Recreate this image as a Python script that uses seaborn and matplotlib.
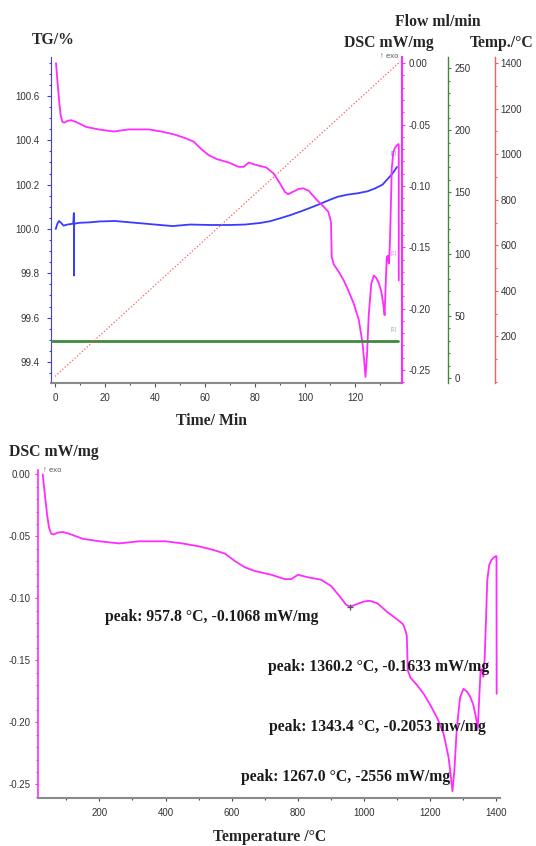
import numpy as np
import pandas as pd
import matplotlib
matplotlib.use("Agg")
import matplotlib.pyplot as plt
import seaborn as sns
from matplotlib.ticker import MultipleLocator, FormatStrFormatter

sns.set_style("ticks")
plt.rcParams['font.family'] = ['Liberation Sans', 'DejaVu Sans']
plt.rcParams['axes.unicode_minus'] = False

MAGENTA = '#ff2cff'
BLUE = '#3b3bff'
GREEN = '#3f8a3f'
RED = '#ff5a5a'
GREY = '#333333'
SERIF = ['Liberation Serif', 'DejaVu Serif']
TICK_SIZE = 7

# heating program: time (min) -> furnace temperature (C)
prog_time = [0.0, 137.5]
prog_temp = [25.0, 1400.0]

# purge gas flow (ml/min)
flow_time = [-1.5, 137.0]
flow_val = [30.0, 30.0]

# TG curve (%) vs time
tg_time = [0.3, 1.0, 1.6, 2.4, 3.4, 5.0, 7.3, 7.55, 7.6, 7.65, 7.8, 10, 14, 18, 24,
           30, 38, 44, 47, 50, 54, 62, 70, 76, 82, 86, 90, 94, 98, 102, 106, 110,
           113, 117, 121, 125, 128, 131, 133, 135, 136.8]
tg_val = [100.0, 100.025, 100.036, 100.028, 100.015, 100.02, 100.024, 100.072, 99.79,
          100.03, 100.024, 100.028, 100.03, 100.034, 100.036, 100.03, 100.022, 100.016,
          100.013, 100.016, 100.02, 100.018, 100.018, 100.02, 100.027, 100.035, 100.048,
          100.062, 100.078, 100.095, 100.113, 100.132, 100.145, 100.155, 100.161, 100.17,
          100.183, 100.2, 100.225, 100.25, 100.28]

# DSC curve (mW/mg) vs temperature
dsc_temp = [29, 35, 42, 48, 55, 62, 75, 90, 110, 150, 200, 260, 320, 400, 450, 500,
            545, 580, 610, 640, 670, 720, 760, 780, 800, 830, 870, 900, 925, 945,
            957.8, 975, 1000, 1018, 1040, 1070, 1100, 1118, 1125, 1129, 1132, 1140,
            1160, 1180, 1200, 1220, 1240, 1255, 1262, 1267, 1273, 1280, 1290, 1300,
            1310, 1320, 1330, 1338, 1343.4, 1347, 1352, 1356, 1360.2, 1364, 1368,
            1372, 1378, 1385, 1392, 1398, 1400, 1400.5]
dsc_val = [0.0, -0.015, -0.032, -0.043, -0.048, -0.0485, -0.047, -0.0465, -0.048,
           -0.052, -0.054, -0.0557, -0.054, -0.054, -0.0557, -0.058, -0.061, -0.064,
           -0.070, -0.075, -0.078, -0.081, -0.0845, -0.0845, -0.081, -0.083, -0.085,
           -0.090, -0.098, -0.105, -0.1068, -0.105, -0.1025, -0.102, -0.104, -0.111,
           -0.117, -0.121, -0.126, -0.13, -0.158, -0.164, -0.170, -0.177, -0.186,
           -0.196, -0.209, -0.228, -0.243, -0.2556, -0.238, -0.205, -0.180, -0.173,
           -0.175, -0.179, -0.186, -0.196, -0.2053, -0.185, -0.158, -0.157, -0.1633,
           -0.150, -0.120, -0.086, -0.073, -0.069, -0.067, -0.066, -0.066, -0.177]

marker_temp = [957.8]
marker_dsc = [-0.1068]
peak_labels = ['peak: 957.8 \u00b0C, -0.1068 mW/mg',
               'peak: 1360.2 \u00b0C, -0.1633 mW/mg',
               'peak: 1343.4 \u00b0C, -0.2053 mw/mg',
               'peak: 1267.0 \u00b0C, -2556 mW/mg']

# DSC against time, through the heating program
dsc_time = np.interp(dsc_temp, prog_temp, prog_time)

W, H = 536, 846
fig = plt.figure(figsize=(W / 100, H / 100), dpi=100)


def fx(px):
    return px / W


def fy(py):
    return 1 - py / H


def style_axis(axis, major, minor, fmt):
    axis.set_major_locator(MultipleLocator(major))
    axis.set_minor_locator(MultipleLocator(minor))
    axis.set_major_formatter(FormatStrFormatter(fmt))


# ---- top panel: TG / DSC / flow / temperature vs time ----
ax1 = fig.add_axes([fx(51), fy(383), fx(402 - 51), (383 - 57) / H])
ax_dsc = ax1.twinx()
ax_flow = ax1.twinx()
ax_temp = ax1.twinx()

sns.lineplot(x=tg_time, y=tg_val, ax=ax1, color=BLUE, lw=1.3, sort=False, estimator=None)
sns.lineplot(x=dsc_time, y=dsc_val, ax=ax_dsc, color=MAGENTA, lw=1.3, sort=False, estimator=None)
sns.lineplot(x=flow_time, y=flow_val, ax=ax_flow, color=GREEN, lw=2.0, sort=False, estimator=None)
sns.lineplot(x=prog_time, y=prog_temp, ax=ax_temp, color=RED, lw=0.9, ls=':', sort=False, estimator=None)

ax1.set_xlim(-1.6, 138.8)
ax1.set_ylim(99.305, 100.776)
ax_dsc.set_ylim(-0.2606, 0.005)
ax_flow.set_ylim(-4, 259)
ax_temp.set_ylim(-4, 1426)

for a in (ax1, ax_dsc, ax_flow, ax_temp):
    a.set_xlabel('')
    a.set_ylabel('')
    for s in a.spines.values():
        s.set_visible(False)

ax1.spines['left'].set_visible(True)
ax1.spines['left'].set_color(BLUE)
ax1.spines['bottom'].set_visible(True)
ax1.spines['bottom'].set_color('#8a8a8a')
ax1.spines['bottom'].set_linewidth(1.5)
style_axis(ax1.xaxis, 20, 10, '%d')
style_axis(ax1.yaxis, 0.2, 0.05, '%.1f')
ax1.tick_params(axis='y', which='both', colors=BLUE, labelcolor=GREY, labelsize=TICK_SIZE, pad=5)
ax1.tick_params(axis='x', which='both', colors='#555555', labelcolor=GREY, labelsize=TICK_SIZE, pad=4)
ax1.tick_params(which='major', length=3, width=0.8)
ax1.tick_params(which='minor', length=1.5, width=0.8)

right_axes = [(ax_dsc, MAGENTA, 1.0, 0.05, 0.01, '%.2f', 1.5),
              (ax_flow, GREEN, (448 - 51) / 351, 50, 10, '%d', 1.0),
              (ax_temp, RED, (494.5 - 51) / 351, 200, 100, '%d', 1.0)]
for a, c, pos, major, minor, fmt, lw in right_axes:
    a.spines['right'].set_visible(True)
    a.spines['right'].set_position(('axes', pos))
    a.spines['right'].set_color(c)
    a.spines['right'].set_linewidth(lw)
    style_axis(a.yaxis, major, minor, fmt)
    a.tick_params(axis='y', which='both', colors=c, labelcolor=GREY, labelsize=TICK_SIZE, pad=2)
    a.tick_params(which='major', length=2.5, width=0.8)
    a.tick_params(which='minor', length=1.2, width=0.8)

ax_temp.set_yticks([200, 400, 600, 800, 1000, 1200, 1400])

fig.text(fx(32), fy(40), 'TG/%', family=SERIF, weight='bold', size=11.3, ha='left', va='center')
fig.text(fx(438), fy(22), 'Flow ml/min', family=SERIF, weight='bold', size=11.3, ha='center', va='center')
fig.text(fx(389), fy(43), 'DSC mW/mg', family=SERIF, weight='bold', size=11.3, ha='center', va='center')
fig.text(fx(502), fy(43), 'Temp./\u00b0C', family=SERIF, weight='bold', size=11.3, ha='center', va='center')
fig.text(fx(212), fy(421), 'Time/ Min', family=SERIF, weight='bold', size=11.3, ha='center', va='center')
fig.text(fx(380), fy(57), '\u2191 exo', size=5.5, color='#555555', ha='left', va='center')
for py, c in [(154, BLUE), (253, MAGENTA), (330, GREEN)]:
    fig.text(fx(391), fy(py), '[1]', size=4, color=c, alpha=0.6, ha='left', va='center')

# ---- bottom panel: DSC vs temperature ----
ax2 = fig.add_axes([fx(38.3), fy(797.7), fx(500 - 38.3), (797.7 - 470) / H])
sns.lineplot(x=dsc_temp, y=dsc_val, ax=ax2, color=MAGENTA, lw=1.3, sort=False, estimator=None)
ax2.plot(marker_temp, marker_dsc, marker='+', color='#555555', ms=5, mew=0.9, ls='none')
ax2.set_xlim(15.7, 1410.6)
ax2.set_ylim(-0.2608, 0.0035)
ax2.set_xlabel('')
ax2.set_ylabel('')
ax2.spines['top'].set_visible(False)
ax2.spines['right'].set_visible(False)
ax2.spines['left'].set_color(MAGENTA)
ax2.spines['left'].set_linewidth(1.2)
ax2.spines['bottom'].set_color('#8a8a8a')
ax2.spines['bottom'].set_linewidth(1.5)
style_axis(ax2.xaxis, 200, 100, '%d')
style_axis(ax2.yaxis, 0.05, 0.01, '%.2f')
ax2.tick_params(axis='y', which='both', colors=MAGENTA, labelcolor=GREY, labelsize=TICK_SIZE, pad=3)
ax2.tick_params(axis='x', which='both', colors='#444444', labelcolor=GREY, labelsize=TICK_SIZE, pad=5)
ax2.tick_params(which='major', length=2.5, width=0.8)
ax2.tick_params(which='minor', length=1.2, width=0.8)

fig.text(fx(9), fy(452), 'DSC mW/mg', family=SERIF, weight='bold', size=11.3, ha='left', va='center')
fig.text(fx(270), fy(837), 'Temperature /\u00b0C', family=SERIF, weight='bold', size=11.3, ha='center', va='center')
fig.text(fx(43), fy(470), '\u2191 exo', size=5.5, color='#555555', ha='left', va='center')

for (px, py), lab in zip([(105, 617), (268, 667), (269, 727), (241, 777)], peak_labels):
    fig.text(fx(px), fy(py), lab, family=SERIF, weight='bold', size=11.3, color='#1a1a1a',
             ha='left', va='center')

fig.savefig('out.png', dpi=100)
